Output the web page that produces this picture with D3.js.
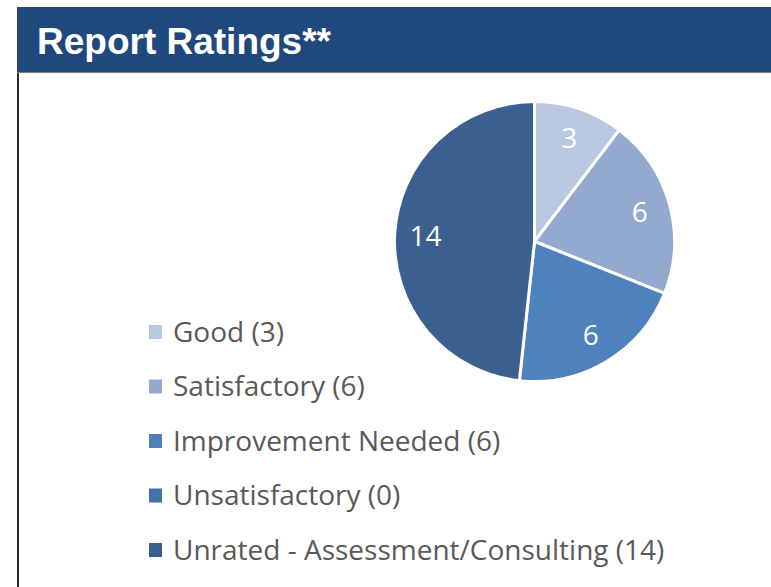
<!DOCTYPE html>
<html><head><meta charset="utf-8">
<script src="https://cdn.jsdelivr.net/npm/d3@7"></script>
<style>html,body{margin:0;padding:0;background:#fff;}svg{display:block;}</style>
</head><body>
<svg id="chart" width="771" height="587"></svg>
<script>
const categories = ["Good", "Satisfactory", "Improvement Needed", "Unsatisfactory", "Unrated - Assessment/Consulting"];
const values = [3, 6, 6, 0, 14];
const colors = ["#B9C7E1", "#94A9CF", "#4F81BD", "#4472A8", "#3B5F8E"];
const title = "Report Ratings**";

const svg = d3.select("#chart");
// panel border
svg.append("line").attr("x1", 18).attr("x2", 18).attr("y1", 72).attr("y2", 587)
  .attr("stroke", "#2b2b2b").attr("stroke-width", 2);
// header
svg.append("rect").attr("x", 17).attr("y", 7).attr("width", 754).attr("height", 65).attr("fill", "#1F497D");
svg.append("line").attr("x1", 17).attr("x2", 771).attr("y1", 72.5).attr("y2", 72.5)
  .attr("stroke", "#7f7f7f").attr("stroke-width", 1);
svg.append("text").attr("x", 37).attr("y", 54).text(title)
  .attr("fill", "#fff").attr("font-family", "Liberation Sans, Arial, sans-serif")
  .attr("font-weight", "bold").attr("font-size", 37);

const cx = 534.5, cy = 241.5, r = 140;
const data = categories.map((c, i) => ({name: c, value: values[i], color: colors[i]}));
const pie = d3.pie().value(d => d.value).sort(null);
const arcs = pie(data);
const arc = d3.arc().innerRadius(0).outerRadius(r);
const labelArc = d3.arc().innerRadius(r * 0.78).outerRadius(r * 0.78);
const g = svg.append("g").attr("transform", `translate(${cx},${cy})`);
g.selectAll("path").data(arcs.filter(a => a.data.value > 0)).join("path")
  .attr("d", arc).attr("fill", d => d.data.color)
  .attr("stroke", "#fff").attr("stroke-width", 3).attr("stroke-linejoin", "round");
g.selectAll("text").data(arcs.filter(a => a.data.value > 0)).join("text")
  .attr("transform", d => `translate(${labelArc.centroid(d)})`)
  .attr("text-anchor", "middle").attr("dy", "0.36em")
  .attr("fill", "#fff").attr("font-family", "Open Sans, sans-serif").attr("font-size", 28)
  .text(d => d.data.value);

const leg = svg.append("g");
const legY = d3.scalePoint().domain(categories).range([332, 550]);
const items = leg.selectAll("g").data(data).join("g")
  .attr("transform", d => `translate(149,${legY(d.name)})`);
items.append("rect").attr("x", 0).attr("y", -7).attr("width", 13).attr("height", 14).attr("fill", d => d.color);
items.append("text").attr("x", 24).attr("dy", "0.35em")
  .attr("fill", "#595959").attr("font-family", "Open Sans, sans-serif").attr("font-size", 28)
  .text(d => `${d.name} (${d.value})`);
</script>
</body></html>
